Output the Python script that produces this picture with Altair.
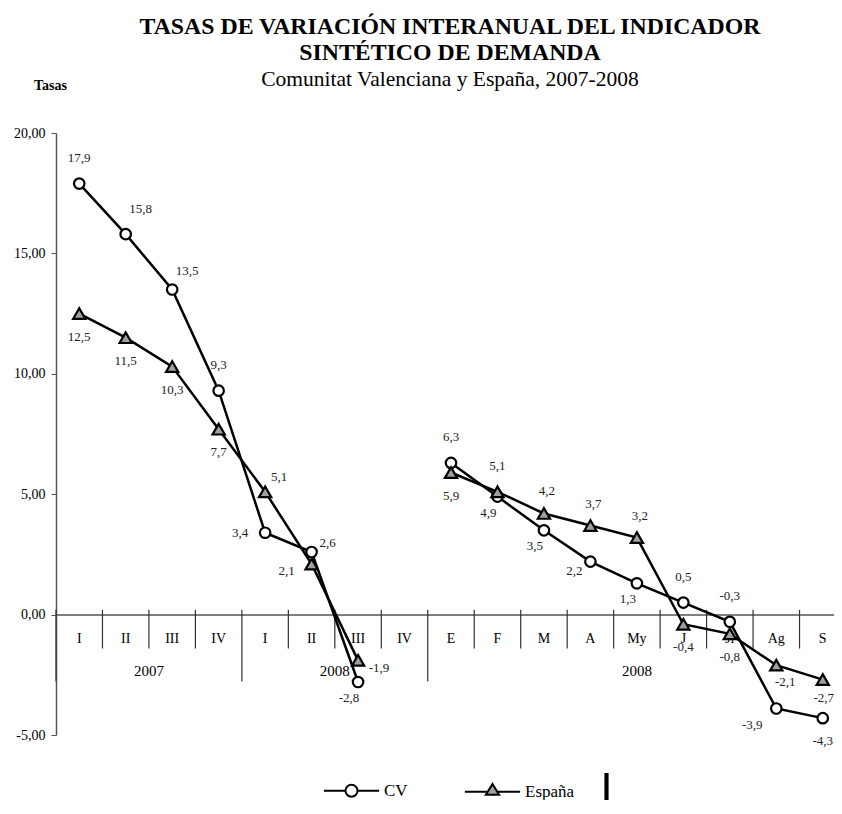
import altair as alt
import pandas as pd

# ---------------- data ----------------
periods = ["I", "II", "III", "IV", "I", "II", "III", "IV",
           "E", "F", "M", "A", "My", "J", "Jl", "Ag", "S"]
frequency = ["trimestral"] * 8 + ["mensual"] * 9
cv = [17.9, 15.8, 13.5, 9.3, 3.4, 2.6, -2.8, None,
      6.3, 4.9, 3.5, 2.2, 1.3, 0.5, -0.3, -3.9, -4.3]
espana = [12.5, 11.5, 10.3, 7.7, 5.1, 2.1, -1.9, None,
          5.9, 5.1, 4.2, 3.7, 3.2, -0.4, -0.8, -2.1, -2.7]
series_names = ["CV", "España"]
group_labels = ["2007", "2008", "2008"]
group_sizes = [4, 4, 9]
y_ticks = [-5, 0, 5, 10, 15, 20]

# ---------------- label layout (not data) ----------------
label_offsets = {
    "n": (0, -26), "n2": (3, -22), "ne": (15, -25), "ne2": (15, -19),
    "ne3": (14, -15), "e": (16, -9), "ese": (21, 8), "w": (-25, 0),
    "wsw": (-16, 9), "wsw2": (-25, 7), "sw": (-9, 16), "sww": (-24, 16),
    "s": (0, 23), "se": (9, 17), "se2": (1, 18),
}
cv_place = ["n", "ne", "ne2", "n", "w", "e", "sw", None, "n", "sw", "sw",
            "wsw", "sw", "n", "n", "sww", "s"]
es_place = ["s", "s", "s", "s", "ne3", "wsw2", "ese", None, "s", "n", "n2",
            "n2", "n2", "s", "s", "se", "se2"]

FONT = "Liberation Serif"
keys = [f"{i:02d} {p}" for i, p in enumerate(periods)]

rows = []
for name, vals, places in [("CV", cv, cv_place), ("España", espana, es_place)]:
    for i, v in enumerate(vals):
        if v is None:
            continue
        rows.append(dict(key=keys[i], serie=name, valor=v, freq=frequency[i],
                         label=f"{v:.1f}".replace(".", ","), place=places[i]))
df = pd.DataFrame(rows)

starts = [sum(group_sizes[:j]) for j in range(len(group_sizes))]
sep = pd.DataFrame({"key": keys,
                    "kind": ["long" if i in starts else "short" for i in range(len(keys))]})

grp_rows = []
for lab, st, sz in zip(group_labels, starts, group_sizes):
    mid = st + sz / 2
    grp_rows.append(dict(key=keys[int(mid)], glabel=lab,
                         bp="edge" if mid == int(mid) else "center"))
grp = pd.DataFrame(grp_rows)

# ---------------- scales / axes ----------------
W = 778          # plot area inside the page; the category band runs to the page edge
XR = 790
xscale = alt.Scale(type="band", domain=keys, range=[0, XR], paddingInner=0, paddingOuter=0)
yscale = alt.Scale(domain=[-5, 20], nice=False, zero=False)
H = 602
zero_px = H * 20 / 25

xaxis = alt.Axis(title=None, labelExpr="substring(datum.label, 3)", offset=-(H - zero_px),
                 ticks=False, domain=True, domainColor="#555555", domainWidth=1.5,
                 labelPadding=24, labelFont=FONT, labelFontSize=14, labelColor="black",
                 labelAngle=0, labelOverlap=False, labelBound=False, labelFlush=False,
                 labelBaseline="middle", grid=False)
yaxis = alt.Axis(values=y_ticks,
                 labelExpr="replace(replace(format(datum.value, '.2f'), '.', ','), '\u2212', '-')",
                 title="Tasas", titleAngle=0, titleFont=FONT, titleFontWeight="bold",
                 titleFontSize=14, titleColor="black", titleX=-6, titleY=-44,
                 titleAlign="center", titleBaseline="alphabetic",
                 grid=False, tickSize=5, tickColor="#555555", domainColor="#555555",
                 domainWidth=1.5, labelPadding=6, labelFont=FONT, labelFontSize=14,
                 labelColor="black")


def X(bp=None):
    kw = dict(scale=xscale, axis=xaxis, sort=keys)
    if bp is not None:
        kw["bandPosition"] = bp
    return alt.X("key:N", **kw)


def Y():
    return alt.Y("valor:Q", scale=yscale, axis=yaxis)


def YD(v):
    return alt.YDatum(v, scale=yscale, axis=yaxis)


legend_paths = [
    "M-4.6,0H-1M1,0H4.6M-1,0A1,1,0,1,1,1,0A1,1,0,1,1,-1,0Z",
    "M-4.6,0H-0.79M0.79,0H4.6M0,-1.3L1.1,0.5L-1.1,0.5Z",
]
legend = alt.Legend(
    title=None, orient="none", legendX=287, legendY=649, direction="horizontal",
    symbolSize=144, labelOffset=24, columnPadding=52, labelFont=FONT,
    labelFontSize=17, labelColor="black", symbolStrokeWidth=2, symbolOpacity=1,
)

layers = []

# separators along the category axis
sep_base = alt.Chart(sep)
layers.append(sep_base.transform_filter("datum.kind == 'short'").mark_rule(color="#333333", strokeWidth=1.2).encode(
    x=X(bp=0), y=YD(0.2), y2=alt.Y2Datum(-1.41)))
layers.append(sep_base.transform_filter("datum.kind == 'long'").mark_rule(color="#333333", strokeWidth=1.2).encode(
    x=X(bp=0), y=YD(0.2), y2=alt.Y2Datum(-2.78)))

# group labels (years)
for bpname, bpv in [("edge", 0), ("center", 0.5)]:
    layers.append(alt.Chart(grp).transform_filter(f"datum.bp == '{bpname}'").mark_text(
        font=FONT, fontSize=15, color="black", baseline="middle", align="center").encode(
        x=X(bp=bpv), y=YD(-2.33), text="glabel:N"))

# series
marker = {"CV": dict(shape="circle", size=110, fill="white"),
          "España": dict(shape="triangle-up", size=150, fill="#a0a0a0")}
for name in series_names:
    base = alt.Chart(df).transform_filter(alt.datum.serie == name)
    layers.append(base.mark_line(color="black", strokeWidth=2.5).encode(
        x=X(), y=Y(), detail="freq:N"))
    layers.append(base.mark_point(filled=True, stroke="black", strokeWidth=2.2, opacity=1,
                                  **marker[name]).encode(x=X(), y=Y()))

# data labels
for pname, (dx, dy) in label_offsets.items():
    layers.append(alt.Chart(df).transform_filter(alt.datum.place == pname).mark_text(
        font=FONT, fontSize=13, color="#222222", dx=dx, dy=dy, align="center", baseline="middle").encode(
        x=X(), y=Y(), text="label:N"))

# legend carrier (invisible marks, visible legend)
layers.append(alt.Chart(pd.DataFrame({"serie": series_names})).mark_point(
    filled=True, opacity=0).encode(
    x=alt.value(0), y=alt.value(0),
    shape=alt.Shape("serie:N", scale=alt.Scale(domain=series_names, range=legend_paths), legend=legend),
    fill=alt.Fill("serie:N", scale=alt.Scale(domain=series_names, range=["white", "#a0a0a0"]), legend=legend),
    stroke=alt.Stroke("serie:N", scale=alt.Scale(domain=series_names, range=["black", "black"]), legend=legend),
))

# black bar present in the reference image
layers.append(alt.Chart(sep).transform_filter("datum.kind == 'long'").mark_rule(color="black", strokeWidth=3.5).encode(
    x=alt.value(550.5), y=alt.value(640), y2=alt.value(670)))

chart = alt.layer(*layers).properties(
    width=W, height=H,
    autosize=alt.AutoSizeParams(type="none"),
    padding={"left": 48, "top": 125, "right": 0, "bottom": 65},
    background="white",
    title=alt.TitleParams(
        text=["TASAS DE VARIACIÓN INTERANUAL DEL INDICADOR", "SINTÉTICO DE DEMANDA"],
        subtitle="Comunitat Valenciana y España, 2007-2008",
        font=FONT, fontSize=23.8, fontWeight="bold", color="black", lineHeight=26,
        subtitleFont=FONT, subtitleFontSize=21.5, subtitleColor="black", subtitlePadding=4,
        anchor="middle", offset=-12, dx=5,
    ),
).configure_view(stroke=None)

chart.save("out.html", embed_options={"renderer": "svg", "actions": False})
